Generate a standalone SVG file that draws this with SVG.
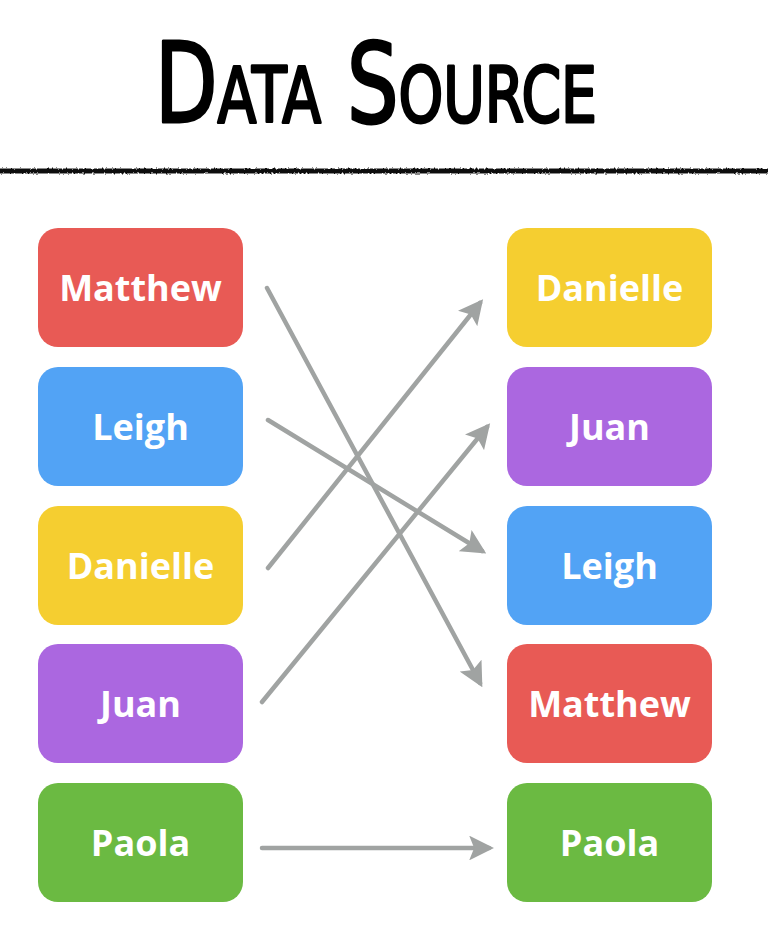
<svg xmlns="http://www.w3.org/2000/svg" width="768" height="946" viewBox="0 0 768 946">
<style>
.box{stroke:none}
.lbl{font-family:"Open Sans","Liberation Sans",sans-serif;font-weight:700;font-size:36px;fill:#ffffff;text-anchor:middle}
.conn{stroke:#a0a3a2;stroke-width:4.5;stroke-linecap:round;fill:none;marker-end:url(#ah)}
.title{font-family:"DejaVu Sans","Liberation Sans",sans-serif;font-weight:400;font-variant:small-caps;font-size:110px;fill:#000;stroke:#000;stroke-width:3;stroke-linejoin:round}
</style>
<defs>
<marker id="ah" viewBox="0 0 10 10" refX="8" refY="5" markerWidth="5.5" markerHeight="5.5" orient="auto" markerUnits="strokeWidth">
<path d="M0,0 L10,5 L0,10 L2,5 Z" fill="#a0a3a2"/>
</marker>
<filter id="rough" filterUnits="userSpaceOnUse" x="-10" y="160" width="790" height="22">
<feTurbulence type="fractalNoise" baseFrequency="0.5" numOctaves="2" seed="3"/>
<feDisplacementMap in="SourceGraphic" scale="3"/>
</filter>
</defs>
<rect width="768" height="946" fill="#ffffff"/>
<g id="title">
<text class="title" x="155" y="122" textLength="442" lengthAdjust="spacingAndGlyphs">Data Source</text>
</g>
<g id="divider">
<line x1="-5" y1="171" x2="773" y2="171" stroke="#111" stroke-width="5" filter="url(#rough)"/>
</g>
<g id="left-matthew"><rect class="box" x="38" y="228" width="205" height="119" rx="20" fill="#e85a55"/><text class="lbl" x="140.5" y="301">Matthew</text></g>
<g id="left-leigh"><rect class="box" x="38" y="367" width="205" height="119" rx="20" fill="#52a3f5"/><text class="lbl" x="140.5" y="440">Leigh</text></g>
<g id="left-danielle"><rect class="box" x="38" y="506" width="205" height="119" rx="20" fill="#f5ce30"/><text class="lbl" x="140.5" y="579">Danielle</text></g>
<g id="left-juan"><rect class="box" x="38" y="644" width="205" height="119" rx="20" fill="#ab67e0"/><text class="lbl" x="140.5" y="717">Juan</text></g>
<g id="left-paola"><rect class="box" x="38" y="783" width="205" height="119" rx="20" fill="#6bba42"/><text class="lbl" x="140.5" y="856">Paola</text></g>
<g id="right-danielle"><rect class="box" x="507" y="228" width="205" height="119" rx="20" fill="#f5ce30"/><text class="lbl" x="609.5" y="301">Danielle</text></g>
<g id="right-juan"><rect class="box" x="507" y="367" width="205" height="119" rx="20" fill="#ab67e0"/><text class="lbl" x="609.5" y="440">Juan</text></g>
<g id="right-leigh"><rect class="box" x="507" y="506" width="205" height="119" rx="20" fill="#52a3f5"/><text class="lbl" x="609.5" y="579">Leigh</text></g>
<g id="right-matthew"><rect class="box" x="507" y="644" width="205" height="119" rx="20" fill="#e85a55"/><text class="lbl" x="609.5" y="717">Matthew</text></g>
<g id="right-paola"><rect class="box" x="507" y="783" width="205" height="119" rx="20" fill="#6bba42"/><text class="lbl" x="609.5" y="856">Paola</text></g>
<g id="connectors">
<line class="conn" x1="267" y1="288" x2="480" y2="683"/>
<line class="conn" x1="268" y1="420" x2="482" y2="551"/>
<line class="conn" x1="268" y1="568" x2="480" y2="303"/>
<line class="conn" x1="262" y1="702" x2="487" y2="427"/>
<line class="conn" x1="262" y1="848" x2="489" y2="848"/>
</g>
</svg>
